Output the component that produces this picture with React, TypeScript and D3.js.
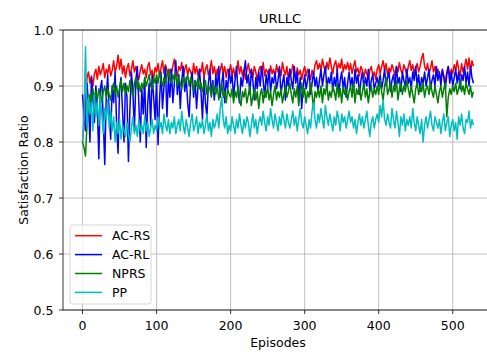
import React, { useEffect, useRef } from "react";
import * as d3 from "d3";

const EPISODE_STEP = 2;
const seriesNames = ["AC-RS", "AC-RL", "NPRS", "PP"];
const seriesColors = ["#ff0000", "#0000ff", "#008000", "#00bfbf"];

const acRS = [
  0.800, 0.835, 0.870, 0.915, 0.925, 0.905, 0.918, 0.900, 0.922, 0.930,
  0.912, 0.935, 0.920, 0.928, 0.940, 0.915, 0.930, 0.922, 0.938, 0.918,
  0.928, 0.945, 0.925, 0.935, 0.955, 0.930, 0.948, 0.922, 0.936, 0.915,
  0.932, 0.940, 0.918, 0.930, 0.945, 0.925, 0.935, 0.920, 0.912, 0.928,
  0.938, 0.922, 0.930, 0.915, 0.935, 0.942, 0.920, 0.928, 0.912, 0.933,
  0.925, 0.940, 0.918, 0.932, 0.945, 0.922, 0.938, 0.928, 0.915, 0.930,
  0.922, 0.936, 0.948, 0.925, 0.918, 0.935, 0.928, 0.942, 0.915, 0.930,
  0.938, 0.920, 0.932, 0.926, 0.915, 0.940, 0.922, 0.935, 0.918, 0.930,
  0.925, 0.942, 0.915, 0.930, 0.938, 0.920, 0.928, 0.945, 0.922, 0.935,
  0.918, 0.930, 0.912, 0.928, 0.940, 0.922, 0.935, 0.915, 0.930, 0.925,
  0.938, 0.920, 0.932, 0.915, 0.926, 0.945, 0.922, 0.935, 0.918, 0.930,
  0.912, 0.928, 0.940, 0.922, 0.930, 0.915, 0.935, 0.925, 0.910, 0.928,
  0.935, 0.920, 0.942, 0.918, 0.930, 0.925, 0.912, 0.936, 0.922, 0.930,
  0.915, 0.938, 0.925, 0.932, 0.918, 0.942, 0.928, 0.920, 0.935, 0.912,
  0.930, 0.922, 0.938, 0.925, 0.915, 0.932, 0.920, 0.928, 0.912, 0.925,
  0.935, 0.918, 0.930, 0.922, 0.912, 0.928, 0.920, 0.938, 0.945, 0.930,
  0.940, 0.928, 0.948, 0.935, 0.925, 0.942, 0.930, 0.950, 0.935, 0.922,
  0.938, 0.945, 0.928, 0.940, 0.932, 0.948, 0.925, 0.938, 0.930, 0.942,
  0.928, 0.940, 0.922, 0.935, 0.945, 0.925, 0.932, 0.918, 0.935, 0.928,
  0.915, 0.930, 0.922, 0.912, 0.928, 0.935, 0.918, 0.925, 0.912, 0.930,
  0.938, 0.922, 0.935, 0.945, 0.928, 0.940, 0.920, 0.932, 0.925, 0.938,
  0.930, 0.918, 0.935, 0.925, 0.942, 0.928, 0.922, 0.938, 0.930, 0.920,
  0.935, 0.945, 0.928, 0.938, 0.922, 0.932, 0.940, 0.925, 0.935, 0.950,
  0.958, 0.935, 0.928, 0.940, 0.922, 0.932, 0.945, 0.925, 0.935, 0.918,
  0.930, 0.922, 0.912, 0.928, 0.918, 0.908, 0.925, 0.935, 0.915, 0.930,
  0.922, 0.938, 0.928, 0.945, 0.930, 0.918, 0.940, 0.925, 0.935, 0.948,
  0.930, 0.950, 0.925, 0.945, 0.935,
];

const acRL = [
  0.885, 0.850, 0.820, 0.905, 0.870, 0.800, 0.915, 0.880, 0.835, 0.900,
  0.860, 0.770, 0.895, 0.910, 0.840, 0.760, 0.880, 0.920, 0.850, 0.805,
  0.900, 0.870, 0.925, 0.830, 0.780, 0.895, 0.915, 0.855, 0.800, 0.905,
  0.880, 0.765, 0.860, 0.925, 0.890, 0.820, 0.910, 0.935, 0.870, 0.800,
  0.895, 0.850, 0.915, 0.790, 0.870, 0.905, 0.830, 0.920, 0.880, 0.840,
  0.910, 0.795, 0.875, 0.925, 0.860, 0.900, 0.935, 0.845, 0.915, 0.880,
  0.930, 0.870, 0.905, 0.945, 0.885, 0.920, 0.860, 0.910, 0.935, 0.890,
  0.915, 0.870, 0.845, 0.905, 0.925, 0.880, 0.910, 0.860, 0.900, 0.930,
  0.890, 0.840, 0.915, 0.870, 0.845, 0.905, 0.930, 0.885, 0.910, 0.875,
  0.920, 0.895, 0.935, 0.880, 0.905, 0.925, 0.870, 0.910, 0.895, 0.930,
  0.905, 0.920, 0.880, 0.910, 0.935, 0.890, 0.870, 0.915, 0.900, 0.925,
  0.945, 0.905, 0.920, 0.885, 0.930, 0.910, 0.875, 0.915, 0.895, 0.925,
  0.900, 0.935, 0.910, 0.880, 0.920, 0.900, 0.930, 0.890, 0.915, 0.905,
  0.925, 0.895, 0.910, 0.935, 0.885, 0.905, 0.920, 0.875, 0.915, 0.900,
  0.930, 0.910, 0.895, 0.935, 0.905, 0.925, 0.880, 0.915, 0.860, 0.900,
  0.920, 0.895, 0.910, 0.930, 0.885, 0.905, 0.925, 0.900, 0.915, 0.890,
  0.910, 0.930, 0.900, 0.920, 0.935, 0.895, 0.915, 0.905, 0.925, 0.890,
  0.915, 0.900, 0.930, 0.885, 0.910, 0.925, 0.895, 0.915, 0.880, 0.905,
  0.925, 0.900, 0.915, 0.890, 0.930, 0.905, 0.920, 0.885, 0.910, 0.925,
  0.895, 0.915, 0.900, 0.930, 0.890, 0.910, 0.920, 0.895, 0.905, 0.915,
  0.900, 0.920, 0.895, 0.910, 0.930, 0.900, 0.915, 0.925, 0.890, 0.910,
  0.920, 0.900, 0.935, 0.905, 0.915, 0.890, 0.925, 0.910, 0.900, 0.930,
  0.905, 0.915, 0.895, 0.925, 0.910, 0.935, 0.900, 0.920, 0.890, 0.915,
  0.905, 0.925, 0.900, 0.915, 0.930, 0.895, 0.910, 0.920, 0.900, 0.935,
  0.910, 0.925, 0.900, 0.930, 0.915, 0.895, 0.920, 0.935, 0.905, 0.925,
  0.900, 0.915, 0.930, 0.905, 0.925, 0.895, 0.920, 0.910, 0.935, 0.905,
  0.925, 0.900, 0.935, 0.915, 0.905,
];

const npRS = [
  0.800, 0.790, 0.775, 0.830, 0.860, 0.885, 0.870, 0.895, 0.880, 0.890,
  0.875, 0.895, 0.885, 0.870, 0.890, 0.900, 0.880, 0.895, 0.885, 0.875,
  0.895, 0.905, 0.885, 0.900, 0.880, 0.895, 0.910, 0.890, 0.905, 0.885,
  0.900, 0.890, 0.910, 0.895, 0.880, 0.905, 0.915, 0.895, 0.905, 0.890,
  0.905, 0.895, 0.915, 0.900, 0.910, 0.920, 0.900, 0.895, 0.915, 0.905,
  0.920, 0.905, 0.925, 0.910, 0.900, 0.915, 0.905, 0.920, 0.930, 0.910,
  0.905, 0.920, 0.910, 0.925, 0.900, 0.915, 0.905, 0.895, 0.915, 0.905,
  0.910, 0.920, 0.900, 0.915, 0.905, 0.890, 0.910, 0.900, 0.915, 0.895,
  0.905, 0.890, 0.900, 0.910, 0.885, 0.900, 0.895, 0.880, 0.905, 0.890,
  0.885, 0.900, 0.875, 0.895, 0.905, 0.880, 0.890, 0.870, 0.895, 0.885,
  0.880, 0.895, 0.870, 0.890, 0.880, 0.900, 0.875, 0.865, 0.890, 0.880,
  0.895, 0.870, 0.885, 0.900, 0.865, 0.880, 0.895, 0.875, 0.890, 0.860,
  0.885, 0.895, 0.870, 0.890, 0.880, 0.900, 0.875, 0.890, 0.865, 0.885,
  0.900, 0.875, 0.890, 0.880, 0.895, 0.870, 0.885, 0.900, 0.880, 0.890,
  0.905, 0.885, 0.870, 0.895, 0.880, 0.900, 0.865, 0.890, 0.905, 0.880,
  0.895, 0.870, 0.890, 0.880, 0.905, 0.885, 0.860, 0.890, 0.880, 0.895,
  0.880, 0.900, 0.870, 0.895, 0.885, 0.905, 0.875, 0.890, 0.880, 0.900,
  0.890, 0.875, 0.905, 0.880, 0.895, 0.870, 0.900, 0.885, 0.895, 0.875,
  0.890, 0.900, 0.880, 0.905, 0.870, 0.895, 0.885, 0.900, 0.875, 0.890,
  0.905, 0.880, 0.895, 0.870, 0.890, 0.900, 0.880, 0.895, 0.885, 0.900,
  0.885, 0.910, 0.890, 0.875, 0.900, 0.915, 0.885, 0.895, 0.905, 0.880,
  0.900, 0.890, 0.910, 0.875, 0.895, 0.905, 0.885, 0.900, 0.890, 0.910,
  0.895, 0.880, 0.900, 0.885, 0.870, 0.895, 0.905, 0.885, 0.900, 0.890,
  0.905, 0.880, 0.895, 0.900, 0.885, 0.905, 0.890, 0.880, 0.900, 0.885,
  0.870, 0.890, 0.900, 0.880, 0.895, 0.905, 0.845, 0.880, 0.895, 0.885,
  0.900, 0.890, 0.905, 0.885, 0.895, 0.910, 0.890, 0.900, 0.885, 0.905,
  0.895, 0.885, 0.900, 0.880, 0.890,
];

const pp = [
  0.800, 0.840, 0.970, 0.830, 0.880, 0.850, 0.870, 0.820, 0.885, 0.845,
  0.870, 0.830, 0.880, 0.850, 0.815, 0.860, 0.840, 0.875, 0.825, 0.855,
  0.820, 0.845, 0.800, 0.835, 0.815, 0.840, 0.805, 0.830, 0.820, 0.810,
  0.835, 0.815, 0.800, 0.825, 0.845, 0.815, 0.830, 0.810, 0.840, 0.820,
  0.830, 0.815, 0.845, 0.820, 0.835, 0.810, 0.825, 0.840, 0.815, 0.830,
  0.820, 0.845, 0.825, 0.835, 0.815, 0.850, 0.830, 0.820, 0.840, 0.815,
  0.835, 0.825, 0.845, 0.815, 0.830, 0.840, 0.820, 0.855, 0.830, 0.815,
  0.840, 0.825, 0.810, 0.835, 0.850, 0.820, 0.830, 0.845, 0.815, 0.835,
  0.825, 0.840, 0.815, 0.830, 0.850, 0.820, 0.835, 0.810, 0.840, 0.825,
  0.835, 0.850, 0.825, 0.860, 0.880, 0.840, 0.825, 0.845, 0.815, 0.830,
  0.820, 0.845, 0.830, 0.815, 0.840, 0.825, 0.850, 0.830, 0.815, 0.840,
  0.825, 0.845, 0.835, 0.810, 0.830, 0.850, 0.825, 0.840, 0.815, 0.835,
  0.845, 0.830, 0.855, 0.835, 0.820, 0.845, 0.830, 0.860, 0.840, 0.825,
  0.850, 0.835, 0.820, 0.845, 0.830, 0.855, 0.840, 0.825, 0.850, 0.835,
  0.825, 0.840, 0.855, 0.830, 0.845, 0.820, 0.840, 0.860, 0.835, 0.825,
  0.845, 0.830, 0.815, 0.840, 0.825, 0.855, 0.870, 0.840, 0.825, 0.850,
  0.835, 0.860, 0.840, 0.825, 0.865, 0.845, 0.830, 0.850, 0.835, 0.820,
  0.845, 0.830, 0.855, 0.840, 0.820, 0.850, 0.835, 0.845, 0.825, 0.840,
  0.855, 0.835, 0.845, 0.825, 0.840, 0.815, 0.835, 0.850, 0.830, 0.845,
  0.825, 0.840, 0.855, 0.830, 0.810, 0.835, 0.845, 0.825, 0.840, 0.850,
  0.835, 0.865, 0.845, 0.875, 0.840, 0.830, 0.850, 0.835, 0.825, 0.860,
  0.840, 0.825, 0.855, 0.835, 0.810, 0.845, 0.830, 0.850, 0.820, 0.840,
  0.830, 0.845, 0.825, 0.860, 0.835, 0.820, 0.845, 0.830, 0.815, 0.840,
  0.800, 0.830, 0.845, 0.825, 0.840, 0.855, 0.830, 0.820, 0.845, 0.835,
  0.825, 0.840, 0.815, 0.835, 0.850, 0.820, 0.835, 0.845, 0.810, 0.830,
  0.840, 0.820, 0.835, 0.805, 0.845, 0.830, 0.850, 0.825, 0.815, 0.840,
  0.835, 0.855, 0.825, 0.840, 0.830,
];

const xTicks = [0, 100, 200, 300, 400, 500];
const yTicks = [0.5, 0.6, 0.7, 0.8, 0.9, 1.0];

export default function App() {
  const ref = useRef<SVGSVGElement | null>(null);

  useEffect(() => {
    const svg = d3.select(ref.current);
    svg.selectAll("*").remove();
    const W = 487, H = 355;
    const left = 63, right = 493, top = 30, bottom = 310;
    const font = "DejaVu Sans, sans-serif";
    const fs = 12.5;

    const x = d3.scaleLinear().domain([-26.4, 554.4]).range([left, right]);
    const y = d3.scaleLinear().domain([0.5, 1.0]).range([bottom, top]);

    svg.append("rect").attr("width", W).attr("height", H).attr("fill", "#fff");

    const defs = svg.append("defs");
    defs.append("clipPath").attr("id", "plotclip")
      .append("rect").attr("x", left).attr("y", top)
      .attr("width", right - left).attr("height", bottom - top);

    // grid
    const grid = svg.append("g");
    xTicks.forEach((t) => {
      grid.append("line").attr("x1", x(t)).attr("x2", x(t))
        .attr("y1", top).attr("y2", bottom)
        .attr("stroke", "#b0b0b0").attr("stroke-width", 0.8);
    });
    yTicks.forEach((t) => {
      grid.append("line").attr("x1", left).attr("x2", right)
        .attr("y1", y(t)).attr("y2", y(t))
        .attr("stroke", "#b0b0b0").attr("stroke-width", 0.8);
    });

    // lines
    const all = [acRS, acRL, npRS, pp];
    const line = d3.line<number>()
      .x((_, i) => x(i * EPISODE_STEP))
      .y((d) => y(d));
    const lg = svg.append("g").attr("clip-path", "url(#plotclip)");
    all.forEach((s, k) => {
      lg.append("path").attr("d", line(s) as string)
        .attr("fill", "none").attr("stroke", seriesColors[k])
        .attr("stroke-width", 1.5).attr("stroke-linejoin", "round");
    });

    // spines
    svg.append("line").attr("x1", left).attr("x2", left).attr("y1", top).attr("y2", bottom)
      .attr("stroke", "#000").attr("stroke-width", 0.8);
    svg.append("line").attr("x1", left).attr("x2", right).attr("y1", bottom).attr("y2", bottom)
      .attr("stroke", "#000").attr("stroke-width", 0.8);
    svg.append("line").attr("x1", left).attr("x2", right).attr("y1", top).attr("y2", top)
      .attr("stroke", "#000").attr("stroke-width", 0.8);

    // ticks
    xTicks.forEach((t) => {
      svg.append("line").attr("x1", x(t)).attr("x2", x(t))
        .attr("y1", bottom).attr("y2", bottom + 4)
        .attr("stroke", "#000").attr("stroke-width", 0.8);
      svg.append("text").attr("x", x(t)).attr("y", bottom + 19.5)
        .attr("text-anchor", "middle").attr("font-family", font)
        .attr("font-size", fs).attr("fill", "#000").text(String(t));
    });
    yTicks.forEach((t) => {
      svg.append("line").attr("x1", left - 4).attr("x2", left)
        .attr("y1", y(t)).attr("y2", y(t))
        .attr("stroke", "#000").attr("stroke-width", 0.8);
      svg.append("text").attr("x", 53.5).attr("y", y(t) + 4.5)
        .attr("text-anchor", "end").attr("font-family", font)
        .attr("font-size", fs).attr("fill", "#000").text(t.toFixed(1));
    });

    // labels
    svg.append("text").attr("x", 278).attr("y", 347).attr("text-anchor", "middle")
      .attr("font-family", font).attr("font-size", fs).text("Episodes");
    svg.append("text").attr("transform", `translate(27.5,${(top + bottom) / 2}) rotate(-90)`)
      .attr("text-anchor", "middle").attr("font-family", font).attr("font-size", fs)
      .text("Satisfaction Ratio");
    svg.append("text").attr("x", 280).attr("y", 23.3).attr("text-anchor", "middle")
      .attr("font-family", font).attr("font-size", 13)
      .text("URLLC");

    // legend
    const leg = svg.append("g");
    leg.append("rect").attr("x", 70).attr("y", 225).attr("width", 81).attr("height", 79)
      .attr("rx", 2.5).attr("fill", "#fff").attr("fill-opacity", 0.8)
      .attr("stroke", "#cccccc").attr("stroke-width", 0.8);
    seriesNames.forEach((n, k) => {
      const yy = 235.7 + k * 18.9;
      leg.append("line").attr("x1", 75).attr("x2", 102).attr("y1", yy).attr("y2", yy)
        .attr("stroke", seriesColors[k]).attr("stroke-width", 1.5);
      leg.append("text").attr("x", 112).attr("y", yy + 4.5)
        .attr("font-family", font).attr("font-size", fs).text(n);
    });
  }, []);

  return (
    <svg ref={ref} width={487} height={355}
      style={{ position: "absolute", left: 0, top: 0, display: "block" }} />
  );
}
